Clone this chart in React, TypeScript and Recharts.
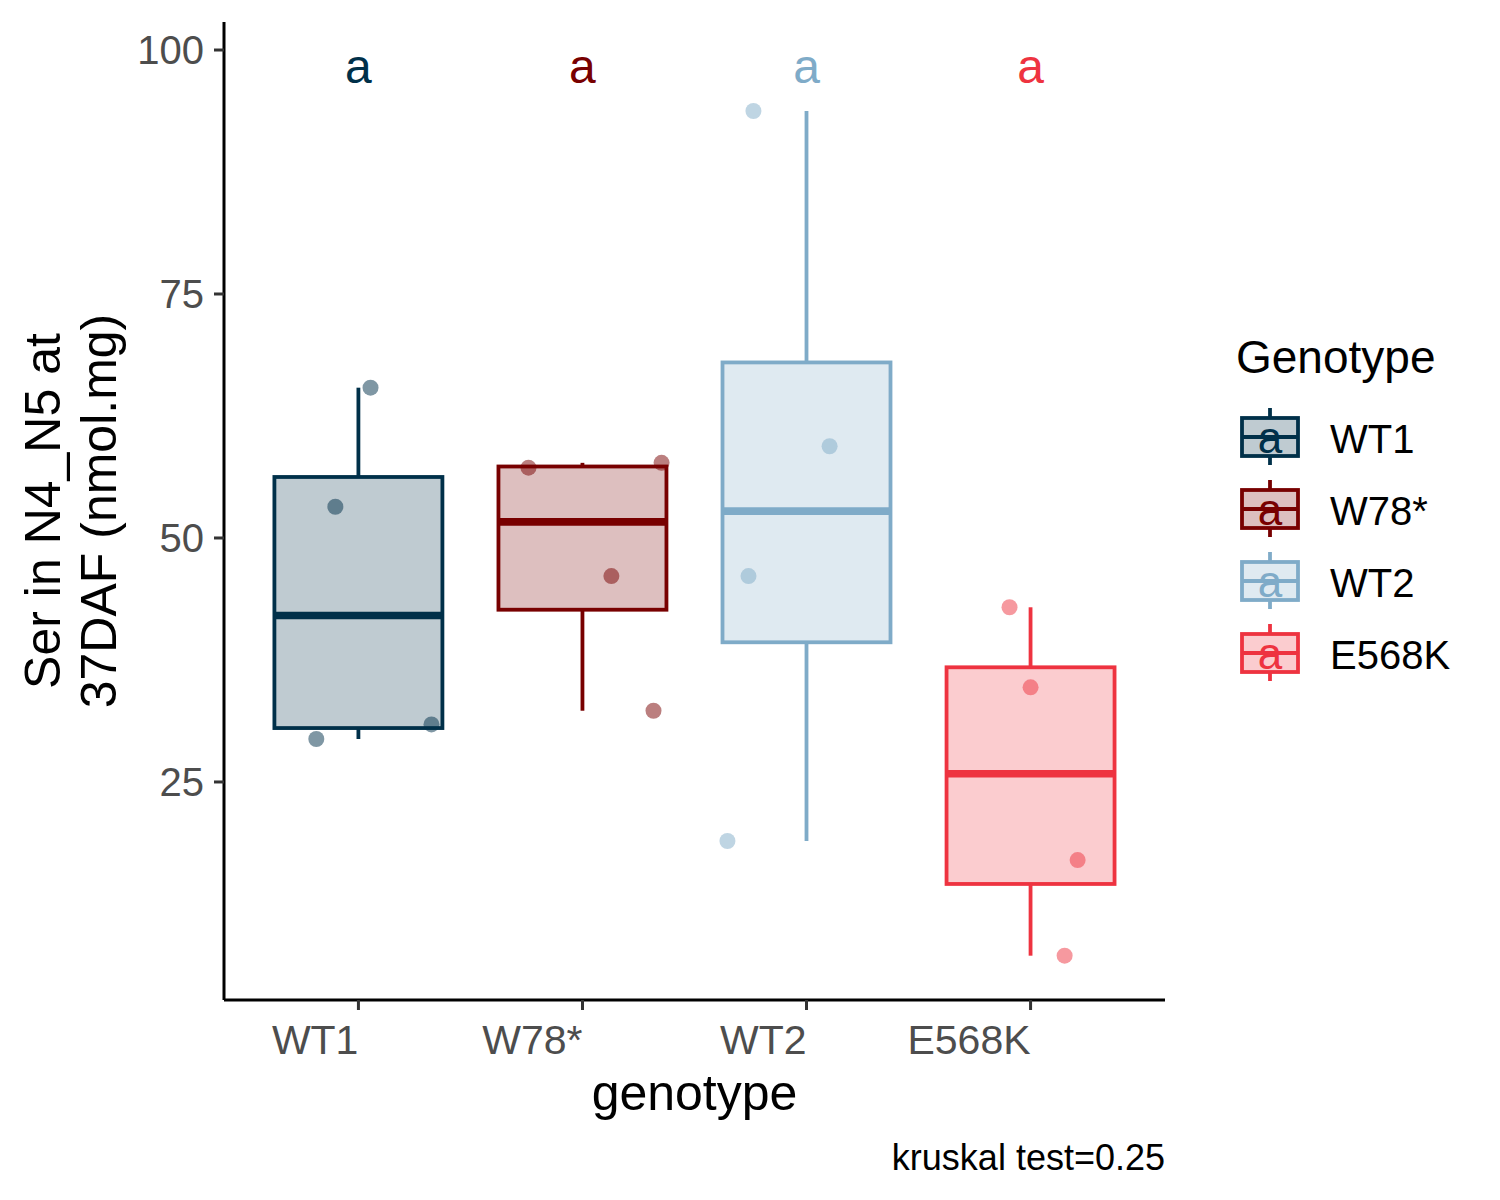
import React from "react";
import {
  Bar,
  ComposedChart,
  Legend,
  Scatter,
  XAxis,
  YAxis,
} from "recharts";

const genotypes = ["WT1", "W78*", "WT2", "E568K"];
const colors = ["#003049", "#780000", "#7FABC8", "#EE3340"];
const letters = ["a", "a", "a", "a"];
const letterY = 98.4;
const yTicks = [25, 50, 75, 100];

// Ser values per genotype, read from the jittered points
const serValues = [
  [65.4, 53.2, 29.4, 30.9],
  [57.2, 57.7, 46.1, 32.3],
  [93.75, 59.4, 46.1, 18.95],
  [42.9, 34.7, 17.0, 7.2],
];
// horizontal jitter of each point (category units)
const jitter = [
  [0.054, -0.103, -0.188, 0.326],
  [-0.241, 0.353, 0.129, 0.317],
  [-0.237, 0.103, -0.259, -0.353],
  [-0.094, 0.0, 0.21, 0.152],
];

const FONT = "Liberation Sans, Arial, sans-serif";
const LW = 3.8;

function quantile(sorted: number[], p: number) {
  const h = (sorted.length - 1) * p;
  const lo = Math.floor(h);
  const hi = Math.ceil(h);
  return sorted[lo] + (h - lo) * (sorted[hi] - sorted[lo]);
}

const boxData = genotypes.map((g, i) => {
  const s = [...serValues[i]].sort((a, b) => a - b);
  const q1 = quantile(s, 0.25);
  const q3 = quantile(s, 0.75);
  const iqr = q3 - q1;
  const inside = s.filter((v) => v >= q1 - 1.5 * iqr && v <= q3 + 1.5 * iqr);
  return {
    x: i + 1,
    name: g,
    color: colors[i],
    q1,
    q3,
    med: quantile(s, 0.5),
    lo: inside[0],
    hi: inside[inside.length - 1],
  };
});

const pointData = genotypes.map((g, i) =>
  serValues[i].map((v, j) => ({ x: i + 1 + jitter[i][j], y: v }))
);

const letterData = genotypes.map((g, i) => ({
  x: i + 1,
  y: letterY,
  label: letters[i],
  color: colors[i],
}));

function BoxShape(props: any) {
  const { x, y, width, height, payload } = props;
  if (!payload || !height) return null;
  const k = height / (payload.q3 - payload.q1);
  const cx = x + width / 2;
  const yHi = y - (payload.hi - payload.q3) * k;
  const yLo = y + height + (payload.q1 - payload.lo) * k;
  const yMed = y + (payload.q3 - payload.med) * k;
  const c = payload.color;
  return (
    <g>
      <line x1={cx} x2={cx} y1={yHi} y2={y} stroke={c} strokeWidth={LW} />
      <line x1={cx} x2={cx} y1={y + height} y2={yLo} stroke={c} strokeWidth={LW} />
      <rect
        x={x}
        y={y}
        width={width}
        height={height}
        fill={c}
        fillOpacity={0.25}
        stroke={c}
        strokeWidth={LW}
      />
      <line x1={x} x2={x + width} y1={yMed} y2={yMed} stroke={c} strokeWidth={LW * 2} />
    </g>
  );
}

function LegendContent() {
  return (
    <svg width={270} height={380} style={{ display: "block" }}>
      <text x={11} y={53} fontSize={46} fontFamily={FONT} fill="#000">
        Genotype
      </text>
      {genotypes.map((g, i) => {
        const c = 117 + i * 72;
        return (
          <g key={g}>
            <line x1={45} x2={45} y1={c - 29} y2={c + 28} stroke={colors[i]} strokeWidth={LW} />
            <rect x={17} y={c - 19} width={56} height={38} fill="#fff" stroke="none" />
            <rect
              x={17}
              y={c - 19}
              width={56}
              height={38}
              fill={colors[i]}
              fillOpacity={0.25}
              stroke={colors[i]}
              strokeWidth={LW}
            />
            <line x1={17} x2={73} y1={c} y2={c} stroke={colors[i]} strokeWidth={LW} />
            <text x={45} y={c + 16} textAnchor="middle" fontSize={44} fontFamily={FONT} fill={colors[i]}>
              {letters[i]}
            </text>
            <text x={105} y={c + 16} fontSize={40} fontFamily={FONT} fill="#000">
              {g}
            </text>
          </g>
        );
      })}
    </svg>
  );
}

function XTick(props: any) {
  const { x, y, payload } = props;
  return (
    <text x={x} y={y} dy={44} textAnchor="end" fontSize={41} fontFamily={FONT} fill="#4D4D4D">
      {genotypes[payload.value - 1]}
    </text>
  );
}

function YTick(props: any) {
  const { x, y, payload } = props;
  return (
    <text x={x} y={y} dy={14} textAnchor="end" fontSize={40} fontFamily={FONT} fill="#4D4D4D">
      {payload.value}
    </text>
  );
}

function XTitle(props: any) {
  const { viewBox } = props;
  return (
    <g>
      <text
        x={viewBox.x + viewBox.width / 2}
        y={viewBox.y + 110}
        textAnchor="middle"
        fontSize={50}
        fontFamily={FONT}
        fill="#000"
      >
        genotype
      </text>
      <text
        x={viewBox.x + viewBox.width}
        y={viewBox.y + 170}
        textAnchor="end"
        fontSize={36}
        fontFamily={FONT}
        fill="#000"
      >
        kruskal test=0.25
      </text>
    </g>
  );
}

function YTitle(props: any) {
  const { viewBox } = props;
  const bx = viewBox.x - 44;
  const cy = viewBox.y + viewBox.height / 2;
  return (
    <text
      transform={`rotate(-90, ${bx}, ${cy})`}
      x={bx}
      y={cy}
      textAnchor="middle"
      fontSize={50}
      fontFamily={FONT}
      fill="#000"
    >
      <tspan x={bx} dy={0}>
        Ser in N4_N5 at
      </tspan>
      <tspan x={bx} dy={56}>
        37DAF (nmol.mg)
      </tspan>
    </text>
  );
}

export default function App() {
  return (
    <div style={{ position: "absolute", left: 0, top: 0, width: 1500, height: 1200, background: "#fff" }}>
      <ComposedChart
        width={1500}
        height={1200}
        data={boxData}
        margin={{ top: 22, right: 335, left: 104, bottom: 140 }}
      >
        <XAxis
          dataKey="x"
          type="number"
          domain={[0.4, 4.6]}
          ticks={[1, 2, 3, 4]}
          allowDataOverflow
          height={60}
          tickSize={10}
          tickMargin={0}
          axisLine={{ stroke: "#000", strokeWidth: 3 }}
          tickLine={{ stroke: "#333", strokeWidth: 3 }}
          tick={<XTick />}
          label={<XTitle />}
        />
        <XAxis xAxisId="pts" dataKey="x" type="number" domain={[0.4, 4.6]} allowDataOverflow hide />
        <YAxis
          dataKey="y"
          type="number"
          domain={[2.66, 102.87]}
          ticks={yTicks}
          allowDataOverflow
          width={120}
          tickSize={10}
          tickMargin={10}
          axisLine={{ stroke: "#000", strokeWidth: 3 }}
          tickLine={{ stroke: "#333", strokeWidth: 3 }}
          tick={<YTick />}
          label={<YTitle />}
        />
        <Bar
          dataKey={(d: any) => [d.q1, d.q3]}
          barSize={168}
          shape={<BoxShape />}
          isAnimationActive={false}
        />
        {pointData.map((pts, i) => (
          <Scatter
            key={genotypes[i]}
            xAxisId="pts"
            data={pts}
            isAnimationActive={false}
            shape={(p: any) => (
              <circle cx={p.cx} cy={p.cy} r={8} fill={colors[i]} fillOpacity={0.5} />
            )}
          />
        ))}
        <Scatter
          xAxisId="pts"
          data={letterData}
          isAnimationActive={false}
          shape={(p: any) => (
            <text
              x={p.cx}
              y={p.cy}
              dy={17}
              textAnchor="middle"
              fontSize={48}
              fontFamily={FONT}
              fill={p.payload.color}
            >
              {p.payload.label}
            </text>
          )}
        />
        <Legend
          layout="horizontal"
          align="center"
          verticalAlign="middle"
          content={<LegendContent />}
          wrapperStyle={{ position: "absolute", left: 1225, top: 320, width: 270, height: 380 }}
        />
      </ComposedChart>
    </div>
  );
}
